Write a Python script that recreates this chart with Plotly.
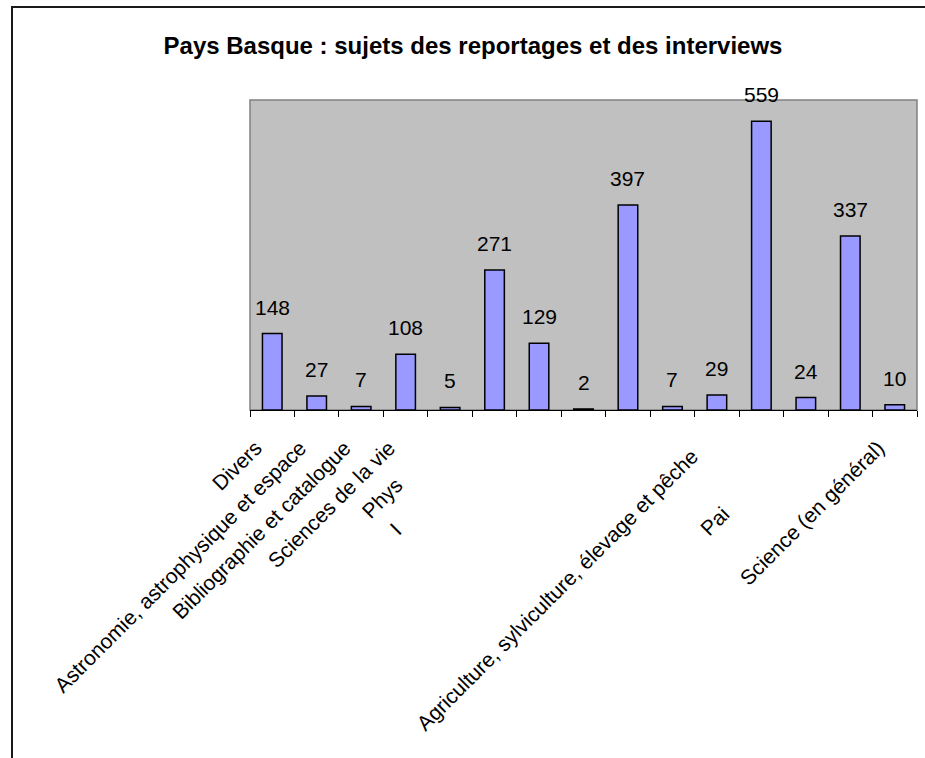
import plotly.graph_objects as go

NB = "\u00a0"

# Data
categories = [
    "Divers",
    "Astronomie, astrophysique et espace",
    "Bibliographie et catalogue",
    "Sciences de la vie",
    "Phys",
    "I",
    "",
    "",
    "",
    "",
    "Agriculture, sylviculture, élevage et pêche",
    "",
    "Pai",
    "",
    "Science (en général)",
]
values = [148, 27, 7, 108, 5, 271, 129, 2, 397, 7, 29, 559, 24, 337, 10]
title_text = "Pays Basque : sujets des reportages et des interviews"

# trailing padding shifts each rotated label down-left, as in the reference
pad = {4: 13, 5: 24, 10: 6, 12: 20}
tick_labels = [c + NB * pad.get(i, 4) if c else "" for i, c in enumerate(categories)]
xs = list(range(len(categories)))

FONT = "Arial, Liberation Sans, sans-serif"

fig = go.Figure()
fig.add_trace(go.Bar(
    x=xs, y=values,
    marker=dict(color="#9999FF", line=dict(color="black", width=1.5)),
    hoverinfo="y",
))

for x, v in zip(xs, values):
    fig.add_annotation(x=x, y=v, text=str(v), showarrow=False,
                       yanchor="bottom", yshift=13,
                       font=dict(family=FONT, size=21, color="black"))

# plot-area border (grey)
fig.add_shape(type="rect", xref="paper", yref="paper", x0=0, x1=1, y0=0, y1=1,
              line=dict(color="#808080", width=1.5), layer="below")
# outer chart border (black, cut off at right/bottom)
fig.add_shape(type="rect", xref="paper", yref="paper",
              x0=(12 - 250) / 667, x1=(935 - 250) / 667,
              y0=(410 - 770) / 310, y1=(410 - 7) / 310,
              line=dict(color="#1a1a1a", width=2))

fig.update_layout(
    width=925, height=758, autosize=False,
    margin=dict(l=250, r=8, t=100, b=348),
    paper_bgcolor="white", plot_bgcolor="#C0C0C0",
    showlegend=False,
    bargap=0.56,
    title=dict(text="<b>" + title_text + "</b>", x=473 / 925, xanchor="center",
               y=1 - 46 / 758, yanchor="middle", yref="container",
               font=dict(family=FONT, size=24, color="black")),
    font=dict(family=FONT, size=21, color="black"),
)
fig.update_xaxes(
    type="category", tickmode="array", tickvals=xs, ticktext=tick_labels,
    tickangle=-45, tickson="boundaries", ticks="outside", ticklen=6,
    tickcolor="black", tickwidth=1, showline=True, linecolor="black", linewidth=1,
    showgrid=False, zeroline=False, range=[-0.5, 14.5],
    tickfont=dict(family=FONT, size=21, color="black"),
)
fig.update_yaxes(range=[0, 600], showticklabels=False, showgrid=False,
                 zeroline=False, showline=False, ticks="")

fig.write_html(
    "out.html",
    config={"displayModeBar": False},
    post_script="document.body.style.margin='0';document.body.style.overflow='hidden';",
)
